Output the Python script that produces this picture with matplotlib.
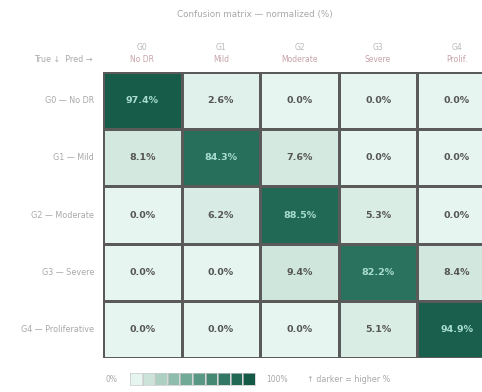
import numpy as np
import matplotlib
matplotlib.use("Agg")
import matplotlib.pyplot as plt
from matplotlib.colors import LinearSegmentedColormap

# data
grades = ["G0", "G1", "G2", "G3", "G4"]
pred_names = ["No DR", "Mild", "Moderate", "Severe", "Prolif."]
true_names = ["No DR", "Mild", "Moderate", "Severe", "Proliferative"]
cm_pct = np.array([
    [97.4, 2.6, 0.0, 0.0, 0.0],
    [8.1, 84.3, 7.6, 0.0, 0.0],
    [0.0, 6.2, 88.5, 5.3, 0.0],
    [0.0, 0.0, 9.4, 82.2, 8.4],
    [0.0, 0.0, 0.0, 5.1, 94.9],
])

W, H = 482, 392
cmap = LinearSegmentedColormap.from_list(
    "mint", [(0.0, "#e6f5f0"), (0.08, "#d3e8df"), (0.5, "#62a08c"),
             (0.85, "#266e5a"), (1.0, "#145846")])
label_col = "#a8a8a8"

def fx(px):
    return px / W

def fy(py):
    return 1 - py / H

fig = plt.figure(figsize=(W / 100, H / 100), dpi=100)
fig.patch.set_facecolor("white")

# grid area in pixels
left, top = 103, 72
cw, ch = 78.6, 57.2
n = len(grades)
ax = fig.add_axes([fx(left), fy(top + n * ch), n * cw / W, n * ch / H])
ax.pcolormesh(cm_pct, cmap=cmap, vmin=0, vmax=100,
              edgecolors="#5a5a5a", linewidth=0.8)
ax.set_xlim(0, n)
ax.set_ylim(n, 0)
ax.set_axis_off()

for i in range(n):
    for j in range(n):
        v = cm_pct[i, j]
        color = "#a8ddd0" if v > 50 else "#555555"
        ax.text(j + 0.5, i + 0.5, f"{v:.1f}%", ha="center", va="center",
                fontsize=6.8, fontweight="bold", color=color)

# title
fig.text(fx(255), fy(15), "Confusion matrix \u2014 normalized (%)",
         ha="center", va="center", fontsize=6.3, color=label_col)

# column headers
for j in range(n):
    cx = left + (j + 0.5) * cw
    fig.text(fx(cx), fy(47), grades[j], ha="center", va="center",
             fontsize=5.5, color="#b8b8b8")
    fig.text(fx(cx), fy(60), pred_names[j], ha="center", va="center",
             fontsize=5.5, color="#c7a3a8")

fig.text(fx(93), fy(60), "True \u2193  Pred \u2192", ha="right", va="center",
         fontsize=5.8, color=label_col)

# row labels
for i in range(n):
    cy = top + (i + 0.5) * ch
    fig.text(fx(94), fy(cy), f"{grades[i]} \u2014 {true_names[i]}",
             ha="right", va="center", fontsize=5.8, color=label_col)

# legend swatches
fig.text(fx(112), fy(379), "0%", ha="center", va="center",
         fontsize=5.5, color=label_col)
sw, sh, gap = 11.6, 12, 1.0
x0 = 130
for k in range(10):
    val = k / 9
    rax = fig.add_axes([fx(x0 + k * (sw + gap)), fy(379 + sh / 2), sw / W, sh / H])
    rax.set_facecolor(cmap(val))
    rax.set_xticks([])
    rax.set_yticks([])
    for s in rax.spines.values():
        s.set_color("#c8c8c8")
        s.set_linewidth(0.5)
fig.text(fx(277), fy(379), "100%", ha="center", va="center",
         fontsize=5.5, color=label_col)
fig.text(fx(307), fy(379), "\u2191 darker = higher %", ha="left", va="center",
         fontsize=5.8, color=label_col)

fig.savefig("out.png", dpi=100)
